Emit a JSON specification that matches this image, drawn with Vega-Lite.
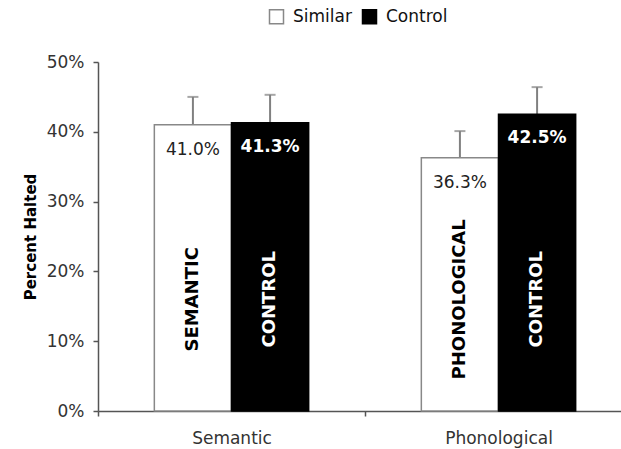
{
  "$schema": "https://vega.github.io/schema/vega-lite/v6.json",
  "autosize": "none",
  "width": 523,
  "height": 349,
  "padding": {"left": 98, "top": 62, "right": 0, "bottom": 38},
  "background": "white",
  "config": {
    "view": {"stroke": null},
    "font": "DejaVu Sans"
  },
  "data": {
    "values": [
      {"group": "Semantic", "cond": "Similar", "value": 0.410, "upper": 0.450, "label": "SEMANTIC"},
      {"group": "Semantic", "cond": "Control", "value": 0.413, "upper": 0.453, "label": "CONTROL"},
      {"group": "Phonological", "cond": "Similar", "value": 0.363, "upper": 0.401, "label": "PHONOLOGICAL"},
      {"group": "Phonological", "cond": "Control", "value": 0.425, "upper": 0.464, "label": "CONTROL"}
    ]
  },
  "encoding": {
    "x": {
      "field": "group", "type": "nominal", "sort": ["Semantic", "Phonological"],
      "scale": {"paddingInner": 0, "paddingOuter": 0, "range": [0, 534]},
      "axis": {
        "title": null, "labelAngle": 0, "labelFontSize": 17, "labelColor": "#333",
        "labelFont": "DejaVu Sans", "tickBand": "extent", "tickSize": 5,
        "domainColor": "#555", "tickColor": "#555", "labelPadding": 14, "domainWidth": 1.5, "tickWidth": 1.5
      }
    },
    "xOffset": {
      "field": "cond", "type": "nominal", "sort": ["Similar", "Control"],
      "scale": {"paddingInner": 0, "paddingOuter": 0.73}
    }
  },
  "layer": [
    {
      "mark": {"type": "rule", "color": "#808080", "strokeWidth": 2},
      "encoding": {
        "y": {"field": "value", "type": "quantitative"},
        "y2": {"field": "upper"}
      }
    },
    {
      "mark": {"type": "tick", "color": "#808080", "thickness": 2, "size": 11},
      "encoding": {
        "y": {"field": "upper", "type": "quantitative"}
      }
    },
    {
      "mark": {"type": "bar", "strokeWidth": 1.5},
      "encoding": {
        "y": {
          "field": "value", "type": "quantitative",
          "scale": {"domain": [0, 0.5]},
          "axis": {
            "title": "Percent Halted", "format": "%", "values": [0, 0.1, 0.2, 0.3, 0.4, 0.5],
            "grid": false, "labelFontSize": 17, "labelColor": "#333", "labelFont": "DejaVu Sans",
            "titleFontSize": 15, "titleFont": "DejaVu Sans", "titleFontWeight": "bold", "titleColor": "black",
            "titlePadding": 8, "labelPadding": 9, "tickSize": 5, "domainColor": "#555", "tickColor": "#555",
            "domainWidth": 1.5, "tickWidth": 1.5
          }
        },
        "fill": {
          "field": "cond", "type": "nominal",
          "scale": {"domain": ["Similar", "Control"], "range": ["white", "black"]},
          "legend": {
            "title": null, "orient": "none", "legendX": 170, "legendY": -54, "direction": "horizontal",
            "labelFontSize": 17, "labelFont": "DejaVu Sans", "labelColor": "#111",
            "symbolType": "square", "symbolSize": 196, "columnPadding": 7, "labelOffset": 8,
            "symbolStrokeWidth": 1.5
          }
        },
        "stroke": {
          "field": "cond", "type": "nominal",
          "scale": {"domain": ["Similar", "Control"], "range": ["#888888", "black"]}
        }
      }
    },
    {
      "transform": [{"filter": "datum.cond === 'Similar'"}],
      "mark": {"type": "text", "fontSize": 17, "font": "DejaVu Sans", "color": "#222", "dy": 25, "baseline": "middle"},
      "encoding": {
        "y": {"field": "value", "type": "quantitative"},
        "text": {"field": "value", "type": "quantitative", "format": ".1%"}
      }
    },
    {
      "transform": [{"filter": "datum.cond === 'Control'"}],
      "mark": {"type": "text", "fontSize": 17, "font": "DejaVu Sans", "fontWeight": "bold", "color": "white", "dy": 24, "baseline": "middle"},
      "encoding": {
        "y": {"field": "value", "type": "quantitative"},
        "text": {"field": "value", "type": "quantitative", "format": ".1%"}
      }
    },
    {
      "mark": {"type": "text", "fontSize": 18, "font": "DejaVu Sans", "fontWeight": "bold", "angle": 270, "align": "center", "baseline": "middle"},
      "encoding": {
        "y": {"datum": 0.16, "type": "quantitative"},
        "text": {"field": "label"},
        "color": {
          "field": "cond", "type": "nominal",
          "scale": {"domain": ["Similar", "Control"], "range": ["black", "white"]},
          "legend": null
        }
      }
    }
  ]
}
